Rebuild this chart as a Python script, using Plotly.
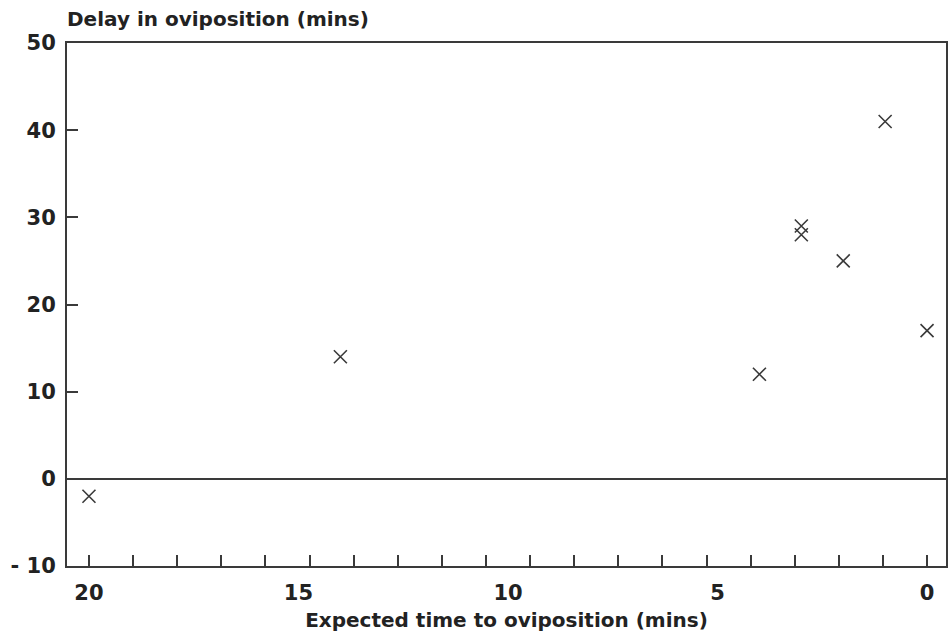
import plotly.graph_objects as go

# Expected time to oviposition (mins) and the observed delay (mins)
expected_time = [20, 14, 4, 3, 3, 2, 1, 0]
delay = [-2, 14, 12, 29, 28, 25, 41, 17]

x_tick_vals = [20, 15, 10, 5, 0]
x_tick_text = ["20", "15", "10", "5", "0"]
y_tick_vals = [-10, 0, 10, 20, 30, 40, 50]
y_tick_text = ["- 10", "0", "10", "20", "30", "40", "50"]

INK = "#3a3a3a"
TEXT = "#222222"
FONT = "DejaVu Sans"

fig = go.Figure()
fig.add_trace(go.Scatter(
    x=expected_time, y=delay, mode="markers",
    marker=dict(symbol="x-thin", size=13, line=dict(width=1.6, color=INK), color=INK),
    showlegend=False, hoverinfo="x+y",
))

fig.update_layout(
    width=949, height=641,
    margin=dict(l=67, r=1, t=43, b=75),
    paper_bgcolor="white", plot_bgcolor="white",
    font=dict(family=FONT, size=20, color=TEXT, weight="bold"),
    xaxis=dict(
        range=[20.524, -0.452],
        tickvals=x_tick_vals, ticktext=x_tick_text,
        tickfont=dict(family=FONT, size=21, weight="bold"),
        ticks="", ticklabelstandoff=7,
        minor=dict(ticks="inside", ticklen=11, tickwidth=1.5, tickcolor=INK,
                   tick0=0, dtick=20 / 19),
        showline=True, linecolor=INK, linewidth=2, mirror=True,
        showgrid=False, zeroline=False,
        title=dict(text="Expected time to oviposition (mins)",
                   font=dict(family=FONT, size=20, weight="bold"), standoff=9),
    ),
    yaxis=dict(
        range=[-10, 50],
        tickvals=y_tick_vals, ticktext=y_tick_text,
        tickfont=dict(family=FONT, size=21, weight="bold"),
        ticks="inside", ticklen=11, tickwidth=1.5, tickcolor=INK,
        ticklabelstandoff=5,
        showline=True, linecolor=INK, linewidth=2, mirror=True,
        showgrid=False,
        zeroline=True, zerolinecolor=INK, zerolinewidth=2,
    ),
    annotations=[dict(
        text="Delay in oviposition (mins)", xref="paper", yref="paper",
        x=0, y=1, xanchor="left", yanchor="bottom", yshift=10, xshift=-2,
        showarrow=False, font=dict(family=FONT, size=20, color=TEXT, weight="bold"),
    )],
)

fig.write_html("out.html")
